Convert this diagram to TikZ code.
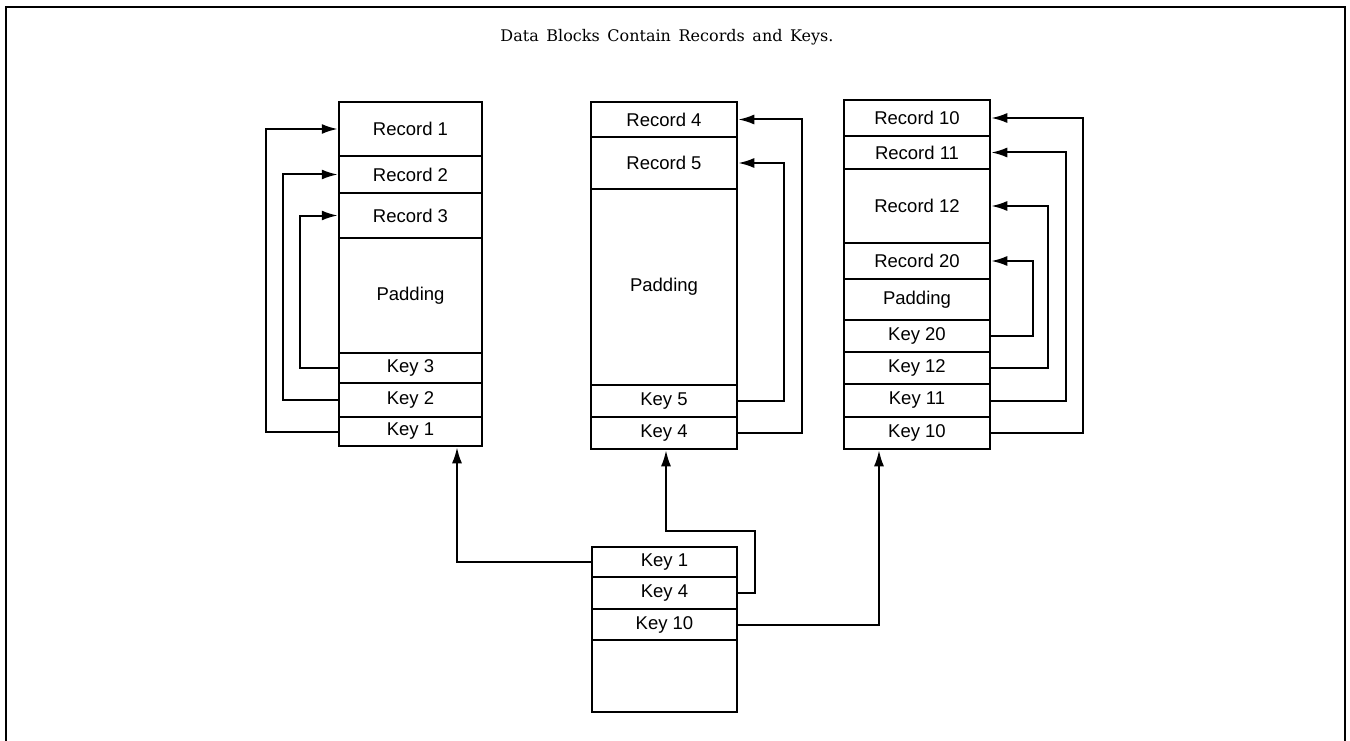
\documentclass[tikz,border=0pt]{standalone}
\usepackage{fontspec}
\setmainfont{Liberation Sans}
\newfontfamily\labelfont{Liberation Sans}
\newfontfamily\titlefont[WordSpace=1.5]{DejaVu Serif}
\usetikzlibrary{arrows.meta}
\tikzset{
  cell/.style={draw, line width=2.5pt, inner sep=0pt, font=\labelfont\fontsize{18.5}{22}\selectfont},
  arr/.style={line width=2pt, line join=miter, -{Latex[length=16pt,width=10pt]}},
  frame/.style={line width=2.5pt}
}
\begin{document}
\begin{tikzpicture}[x=1pt,y=-1pt]
\useasboundingbox (0,0) rectangle (1350,741);
\draw[frame] (6,741) -- (6,7) -- (1345,7) -- (1345,741);
\node[font=\titlefont\fontsize{16}{20}\selectfont] (title) at (667,37) {Data Blocks Contain Records and Keys.};

% left block
\node[cell, minimum width=143pt, minimum height=54pt]  (r1)  at (410.5,129)   {Record 1};
\node[cell, minimum width=143pt, minimum height=37pt]  (r2)  at (410.5,174.5) {Record 2};
\node[cell, minimum width=143pt, minimum height=45pt]  (r3)  at (410.5,215.5) {Record 3};
\node[cell, minimum width=143pt, minimum height=115pt] (lp)  at (410.5,295.5) {Padding};
\node[cell, minimum width=143pt, minimum height=30pt]  (k3)  at (410.5,368)   {Key 3};
\node[cell, minimum width=143pt, minimum height=34pt]  (k2)  at (410.5,400)   {Key 2};
\node[cell, minimum width=143pt, minimum height=29pt]  (k1)  at (410.5,431.5) {Key 1};

% middle block
\node[cell, minimum width=146pt, minimum height=35pt]  (r4)  at (664,119.5) {Record 4};
\node[cell, minimum width=146pt, minimum height=52pt]  (r5)  at (664,163)   {Record 5};
\node[cell, minimum width=146pt, minimum height=196pt] (mp)  at (664,287)   {Padding};
\node[cell, minimum width=146pt, minimum height=32pt]  (k5)  at (664,401)   {Key 5};
\node[cell, minimum width=146pt, minimum height=32pt]  (k4)  at (664,433)   {Key 4};

% right block
\node[cell, minimum width=146pt, minimum height=36pt] (r10) at (917,118)   {Record 10};
\node[cell, minimum width=146pt, minimum height=33pt] (r11) at (917,152.5) {Record 11};
\node[cell, minimum width=146pt, minimum height=74pt] (r12) at (917,206)   {Record 12};
\node[cell, minimum width=146pt, minimum height=36pt] (r20) at (917,261)   {Record 20};
\node[cell, minimum width=146pt, minimum height=41pt] (rp)  at (917,299.5) {Padding};
\node[cell, minimum width=146pt, minimum height=32pt] (k20) at (917,336)   {Key 20};
\node[cell, minimum width=146pt, minimum height=32pt] (k12) at (917,368)   {Key 12};
\node[cell, minimum width=146pt, minimum height=33pt] (k11) at (917,400.5) {Key 11};
\node[cell, minimum width=146pt, minimum height=32pt] (k10) at (917,433)   {Key 10};

% bottom index block
\node[cell, minimum width=145pt, minimum height=30pt] (b1)  at (664.5,562)   {Key 1};
\node[cell, minimum width=145pt, minimum height=32pt] (b4)  at (664.5,593)   {Key 4};
\node[cell, minimum width=145pt, minimum height=31pt] (b10) at (664.5,624.5) {Key 10};
\node[cell, minimum width=145pt, minimum height=72pt] (be)  at (664.5,676)   {};

% left block loops
\draw[arr] (k1.west) -- ++(-72,0) |- (r1.west);
\draw[arr] (k2.west) -- ++(-55,0) |- (r2.west);
\draw[arr] (k3.west) -- ++(-38,0) |- (r3.west);

% middle block loops
\draw[arr] (k4.east) -- ++(64,0) |- (r4.east);
\draw[arr] (k5.east) -- ++(46,0) |- (r5.east);

% right block loops
\draw[arr] (k10.east) -- ++(92,0) |- (r10.east);
\draw[arr] (k11.east) -- ++(75,0) |- (r11.east);
\draw[arr] (k12.east) -- ++(57,0) |- (r12.east);
\draw[arr] (k20.east) -- ++(42,0) |- (r20.east);

% index pointers
\coordinate (bend) at (755,531);
\draw[arr] (b1.west) -| ([xshift=46.5pt]k1.south);
\draw[arr] (b4.east) -| (bend) -| ([xshift=2pt]k4.south);
\draw[arr] (b10.east) -| ([xshift=-38pt]k10.south);
\end{tikzpicture}
\end{document}
